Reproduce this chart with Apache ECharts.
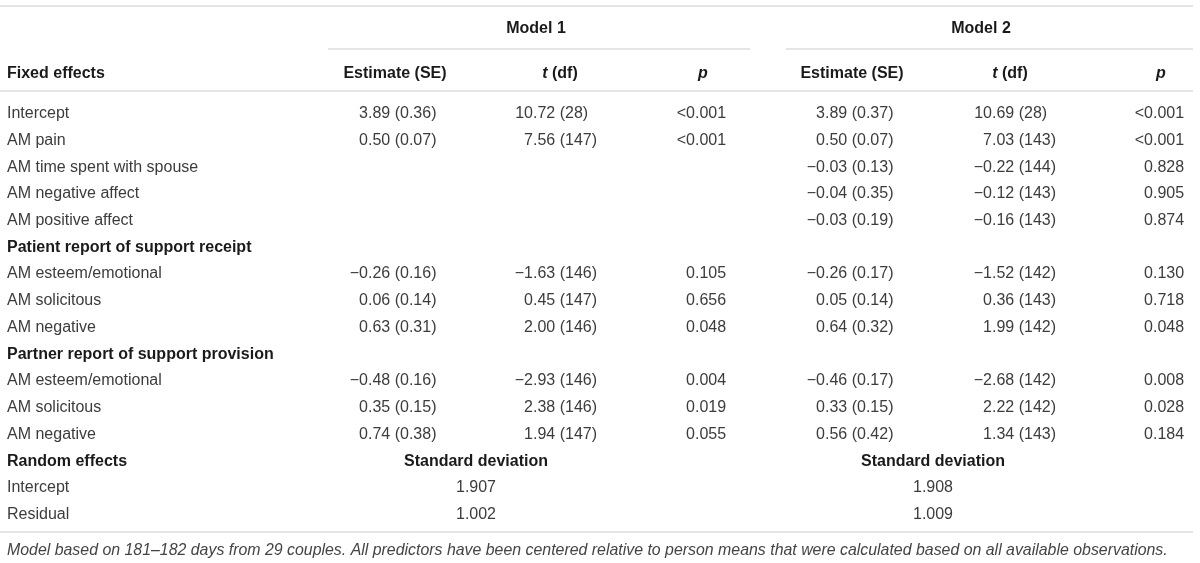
<!DOCTYPE html>
<html>
<head>
<meta charset="utf-8">
<script src="https://cdn.jsdelivr.net/npm/echarts@6/dist/echarts.min.js"></script>
<style>
  html, body { margin: 0; padding: 0; background: #fff; }
  #main { width: 1200px; height: 563px; }
</style>
</head>
<body>
<div id="main"></div>
<script>
// fixed effects rows (section rows have no values)
var fixedLabels = ['Intercept', 'AM pain', 'AM time spent with spouse', 'AM negative affect', 'AM positive affect',
  'Patient report of support receipt', 'AM esteem/emotional', 'AM solicitous', 'AM negative',
  'Partner report of support provision', 'AM esteem/emotional', 'AM solicitous', 'AM negative'];
var sectionLabels = ['Patient report of support receipt', 'Partner report of support provision', 'Random effects'];

var m1Estimate = ['3.89 (0.36)', '0.50 (0.07)', '', '', '', '', '−0.26 (0.16)', '0.06 (0.14)', '0.63 (0.31)', '', '−0.48 (0.16)', '0.35 (0.15)', '0.74 (0.38)'];
var m1T = ['10.72 (28)', '7.56 (147)', '', '', '', '', '−1.63 (146)', '0.45 (147)', '2.00 (146)', '', '−2.93 (146)', '2.38 (146)', '1.94 (147)'];
var m1P = ['<0.001', '<0.001', '', '', '', '', '0.105', '0.656', '0.048', '', '0.004', '0.019', '0.055'];
var m2Estimate = ['3.89 (0.37)', '0.50 (0.07)', '−0.03 (0.13)', '−0.04 (0.35)', '−0.03 (0.19)', '', '−0.26 (0.17)', '0.05 (0.14)', '0.64 (0.32)', '', '−0.46 (0.17)', '0.33 (0.15)', '0.56 (0.42)'];
var m2T = ['10.69 (28)', '7.03 (143)', '−0.22 (144)', '−0.12 (143)', '−0.16 (143)', '', '−1.52 (142)', '0.36 (143)', '1.99 (142)', '', '−2.68 (142)', '2.22 (142)', '1.34 (143)'];
var m2P = ['<0.001', '<0.001', '0.828', '0.905', '0.874', '', '0.130', '0.718', '0.048', '', '0.008', '0.028', '0.184'];

// random effects rows
var randomLabels = ['Random effects', 'Intercept', 'Residual'];
var sdModel1 = ['Standard deviation', '1.907', '1.002'];
var sdModel2 = ['Standard deviation', '1.908', '1.009'];

var modelTitles = ['Model 1', 'Model 2'];
var footnote = 'Model based on 181–182 days from 29 couples. All predictors have been centered relative to person means that were calculated based on all available observations.';

// layout (pixels)
var COL = { label: 7, m1Est: 368, m1T: 533, m1P: 695, m2Est: 825, m2T: 992, m2P: 1153, m1Sd: 476, m2Sd: 933 };
var HEAD = { m1Est: 395, m1T: 560, m1P: 703, m2Est: 852, m2T: 1010, m2P: 1161, m1Title: 536, m2Title: 981 };
var FONT = 'Liberation Sans';
var TEXT = '#3c3c3c';
var BOLD = '#1a1a1a';
var RULE = '#dcdcdc';

var rows = [];
fixedLabels.forEach(function (lab, i) {
  rows.push({ label: lab, cells: [
    ['m1Est', m1Estimate[i]], ['m1T', m1T[i]], ['m1P', m1P[i]],
    ['m2Est', m2Estimate[i]], ['m2T', m2T[i]], ['m2P', m2P[i]]
  ] });
});
randomLabels.forEach(function (lab, i) {
  rows.push({ label: lab, sd: [sdModel1[i], sdModel2[i]] });
});

function txt(x, y, s, align, bold) {
  return {
    type: 'text', x: x, y: y,
    style: { text: s, fill: bold ? BOLD : TEXT, fontFamily: FONT, fontSize: 16,
      fontWeight: bold ? 'bold' : 'normal', align: align, verticalAlign: 'middle' }
  };
}

function renderRow(params, api) {
  var i = params.dataIndex;
  var row = rows[i];
  var y = api.coord([0, i])[1];
  var xOf = function (v) { return api.coord([v, i])[0]; };
  var isSection = sectionLabels.indexOf(row.label) >= 0;
  var children = [txt(xOf(COL.label), y, row.label, 'left', isSection)];
  if (row.cells) {
    row.cells.forEach(function (c) {
      if (!c[1]) return;
      // align on the decimal point
      var k = c[1].indexOf('.');
      children.push(txt(xOf(COL[c[0]]), y, c[1].slice(0, k), 'right', false));
      children.push(txt(xOf(COL[c[0]]), y, c[1].slice(k), 'left', false));
    });
  }
  if (row.sd) {
    children.push(txt(xOf(COL.m1Sd), y, row.sd[0], 'center', isSection));
    children.push(txt(xOf(COL.m2Sd), y, row.sd[1], 'center', isSection));
  }
  return { type: 'group', children: children };
}

function headText(x, y, s) {
  return {
    type: 'text', x: x, y: y,
    style: {
      text: s, fill: BOLD, fontFamily: FONT, fontSize: 16, fontWeight: 'bold',
      align: 'center', verticalAlign: 'middle',
      rich: { i: { fontStyle: 'italic', fontWeight: 'bold', fontFamily: FONT, fontSize: 16, fill: BOLD } }
    }
  };
}
function rule(x1, x2, y) {
  return { type: 'line', shape: { x1: x1, y1: y, x2: x2, y2: y }, style: { stroke: RULE, lineWidth: 1.5 } };
}

var myChart = echarts.init(document.getElementById('main'));
var option = {
  animation: false,
  grid: { left: 0, right: 0, top: 100.3, bottom: 35 },
  xAxis: { type: 'value', min: 0, max: 1200, show: false },
  yAxis: { type: 'category', inverse: true, show: false, data: rows.map(function (r, i) { return i; }) },
  series: [{
    type: 'custom',
    renderItem: renderRow,
    data: rows.map(function (r, i) { return [0, i]; })
  }],
  graphic: [
    rule(0, 1193, 6),
    headText(HEAD.m1Title, 28.5, modelTitles[0]),
    headText(HEAD.m2Title, 28.5, modelTitles[1]),
    rule(328, 750, 49),
    rule(786, 1193, 49),
    { type: 'text', x: 7, y: 74, style: { text: 'Fixed effects', fill: BOLD, fontFamily: FONT, fontSize: 16, fontWeight: 'bold', align: 'left', verticalAlign: 'middle' } },
    headText(HEAD.m1Est, 74, 'Estimate (SE)'),
    headText(HEAD.m1T, 74, '{i|t} (df)'),
    headText(HEAD.m1P, 74, '{i|p}'),
    headText(HEAD.m2Est, 74, 'Estimate (SE)'),
    headText(HEAD.m2T, 74, '{i|t} (df)'),
    headText(HEAD.m2P, 74, '{i|p}'),
    rule(0, 1193, 91),
    rule(0, 1193, 532),
    { type: 'text', x: 7, y: 551, style: { text: footnote, fill: '#444', fontFamily: FONT, fontSize: 15.9, fontStyle: 'italic', align: 'left', verticalAlign: 'middle' } }
  ]
};
myChart.setOption(option);
</script>
</body>
</html>
